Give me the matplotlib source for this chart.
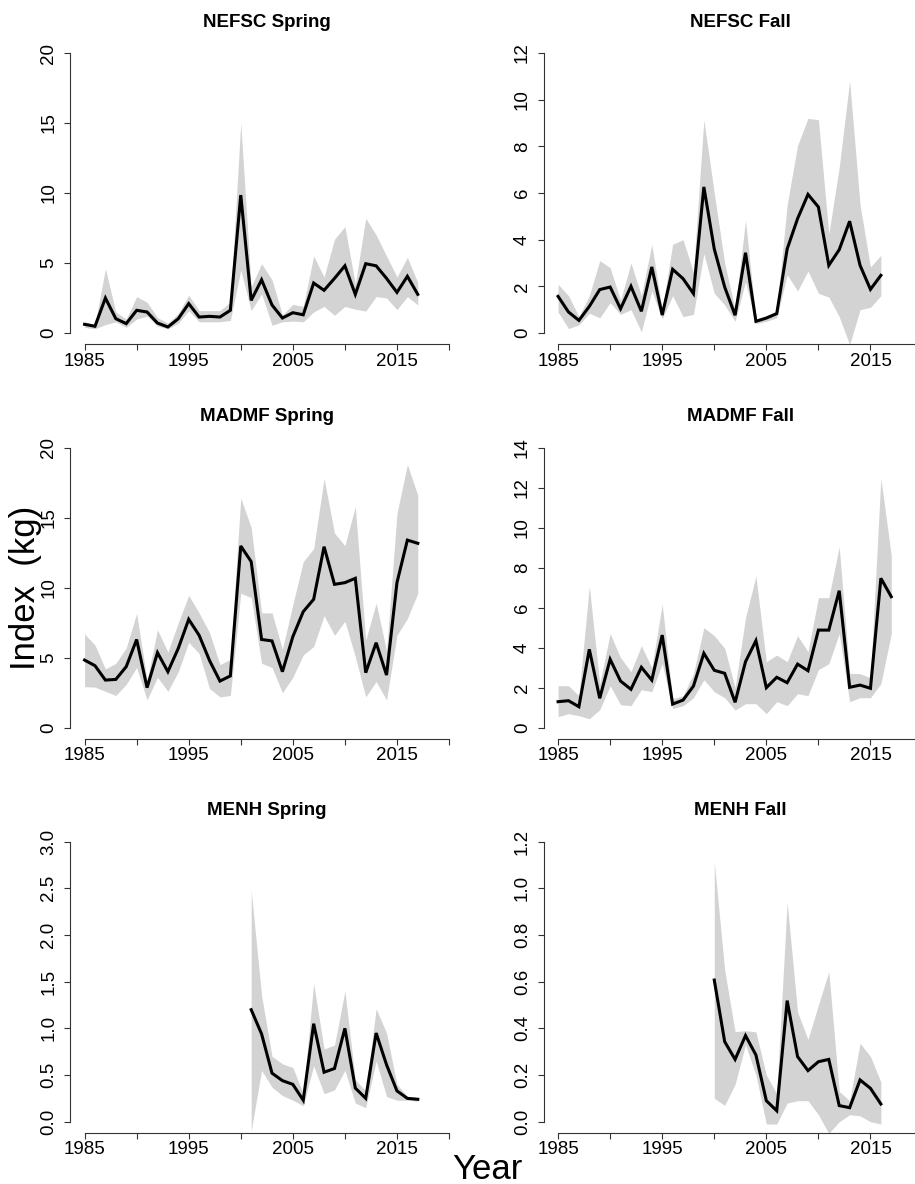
import matplotlib
matplotlib.use("Agg")
import matplotlib.pyplot as plt
import numpy as np

plt.rcParams['font.family'] = ['Liberation Sans', 'DejaVu Sans']

# survey indices (kg) with lower/upper confidence bounds
nefsc_spring_years = list(range(1985, 2018))
nefsc_spring_idx = [0.62, 0.48, 2.5, 1.02, 0.67, 1.62, 1.5, 0.71, 0.43, 1.02, 2.1,
                    1.14, 1.19, 1.14, 1.62, 9.85, 2.33, 3.8, 2.0, 1.07, 1.45, 1.3,
                    3.57, 3.05, 3.9, 4.8, 2.76, 4.95, 4.8, 3.9, 2.9, 4.05, 2.76]
nefsc_spring_lo = [0.4, 0.3, 0.6, 0.8, 0.4, 1.0, 1.2, 0.5, 0.3, 0.7, 1.6,
                   0.8, 0.8, 0.8, 0.9, 4.5, 1.6, 2.8, 0.55, 0.8, 0.85, 0.8,
                   1.5, 1.9, 1.26, 1.9, 1.7, 1.57, 2.6, 2.5, 1.67, 2.6, 2.0]
nefsc_spring_hi = [0.8, 0.6, 4.6, 1.5, 1.0, 2.6, 2.2, 1.1, 0.7, 1.4, 2.7,
                   1.6, 1.6, 1.6, 2.2, 15.0, 3.3, 4.95, 3.8, 1.3, 2.05, 1.9,
                   5.5, 4.0, 6.7, 7.6, 3.5, 8.2, 7.0, 5.5, 4.0, 5.4, 3.6]

nefsc_fall_years = list(range(1985, 2017))
nefsc_fall_idx = [1.57, 0.9, 0.54, 1.14, 1.86, 1.97, 1.04, 2.0, 0.93, 2.83, 0.77,
                  2.73, 2.33, 1.69, 6.26, 3.6, 1.97, 0.76, 3.44, 0.5, 0.64, 0.83,
                  3.6, 4.9, 5.94, 5.4, 2.9, 3.57, 4.79, 2.9, 1.87, 2.47]
nefsc_fall_lo = [0.9, 0.19, 0.35, 0.85, 0.65, 1.3, 0.8, 1.0, 0.05, 1.8, 0.6,
                 1.6, 0.7, 0.8, 3.4, 1.7, 1.2, 0.5, 2.2, 0.4, 0.5, 0.65,
                 2.5, 1.8, 2.66, 1.7, 1.54, 0.7, -0.5, 1.0, 1.1, 1.6]
nefsc_fall_hi = [2.09, 1.6, 0.7, 1.6, 3.1, 2.8, 1.4, 3.0, 1.6, 3.8, 1.0,
                 3.8, 4.0, 2.6, 9.14, 6.0, 3.0, 1.0, 4.83, 0.6, 0.75, 0.95,
                 5.5, 8.04, 9.2, 9.14, 4.25, 7.1, 10.8, 5.5, 2.83, 3.33]

madmf_spring_years = list(range(1985, 2018))
madmf_spring_idx = [4.83, 4.43, 3.4, 3.45, 4.36, 6.3, 2.86, 5.36, 4.0, 5.67, 7.74,
                    6.6, 4.8, 3.33, 3.7, 12.98, 11.86, 6.3, 6.2, 4.0, 6.5, 8.29,
                    9.17, 12.93, 10.24, 10.36, 10.67, 3.93, 6.07, 3.76, 10.36, 13.4, 13.17]
madmf_spring_lo = [2.93, 2.9, 2.6, 2.3, 3.1, 4.3, 1.98, 3.6, 2.6, 4.0, 6.1,
                   5.3, 2.8, 2.2, 2.3, 9.6, 9.3, 4.6, 4.3, 2.5, 3.6, 5.2,
                   5.8, 8.0, 6.6, 7.6, 5.07, 2.2, 3.3, 1.98, 6.6, 7.8, 9.6]
madmf_spring_hi = [6.7, 5.9, 4.2, 4.6, 5.7, 8.17, 3.4, 7.0, 5.4, 7.5, 9.45,
                   8.2, 6.8, 4.5, 4.9, 16.4, 14.3, 8.2, 8.2, 5.6, 8.8, 11.86,
                   12.8, 17.8, 13.9, 13.0, 15.8, 6.26, 8.9, 5.5, 15.3, 18.8, 16.6]

madmf_fall_years = list(range(1985, 2018))
madmf_fall_idx = [1.3, 1.35, 1.05, 3.92, 1.47, 3.42, 2.33, 1.92, 3.02, 2.38, 4.63,
                  1.18, 1.38, 2.08, 3.72, 2.87, 2.72, 1.27, 3.3, 4.35, 2.0, 2.52,
                  2.25, 3.18, 2.85, 4.88, 4.88, 6.85, 2.02, 2.13, 1.97, 7.47, 6.55]
madmf_fall_lo = [0.55, 0.7, 0.6, 0.45, 0.9, 2.1, 1.15, 1.1, 1.9, 1.8, 3.2,
                 0.95, 1.1, 1.5, 2.4, 1.8, 1.5, 0.88, 1.2, 1.2, 0.7, 1.3,
                 1.1, 1.7, 1.6, 2.9, 3.2, 4.7, 1.3, 1.5, 1.5, 2.2, 4.7]
madmf_fall_hi = [2.1, 2.1, 1.6, 7.08, 2.2, 4.7, 3.5, 2.8, 4.1, 3.0, 6.17,
                 1.45, 1.6, 2.7, 5.0, 4.6, 3.97, 2.0, 5.5, 7.58, 3.3, 3.63,
                 3.3, 4.6, 3.8, 6.5, 6.5, 9.05, 2.72, 2.7, 2.5, 12.47, 8.6]

menh_spring_years = list(range(2001, 2018))
menh_spring_idx = [1.2, 0.94, 0.52, 0.44, 0.4, 0.23, 1.05, 0.53, 0.57, 1.0, 0.36,
                   0.25, 0.95, 0.61, 0.33, 0.25, 0.24]
menh_spring_lo = [-0.1, 0.55, 0.37, 0.28, 0.23, 0.17, 0.6, 0.3, 0.34, 0.55, 0.2,
                  0.15, 0.65, 0.27, 0.23, 0.23, 0.22]
menh_spring_hi = [2.48, 1.35, 0.7, 0.62, 0.58, 0.3, 1.48, 0.78, 0.82, 1.4, 0.45,
                  0.33, 1.21, 0.95, 0.4, 0.27, 0.26]

menh_fall_years = list(range(2000, 2017))
menh_fall_idx = [0.607, 0.343, 0.267, 0.369, 0.286, 0.09, 0.047, 0.519, 0.279, 0.219,
                 0.257, 0.267, 0.069, 0.06, 0.179, 0.143, 0.076]
menh_fall_lo = [0.1, 0.07, 0.16, 0.33, 0.2, -0.01, -0.01, 0.08, 0.09, 0.09,
                0.03, -0.05, 0.0, 0.03, 0.025, 0.0, -0.01]
menh_fall_hi = [1.114, 0.65, 0.386, 0.39, 0.385, 0.2, 0.12, 0.94, 0.47, 0.353,
                0.5, 0.643, 0.13, 0.09, 0.336, 0.28, 0.17]

panels = [
    ("NEFSC Spring", nefsc_spring_years, nefsc_spring_idx, nefsc_spring_lo, nefsc_spring_hi, 20, 5, "%d"),
    ("NEFSC Fall", nefsc_fall_years, nefsc_fall_idx, nefsc_fall_lo, nefsc_fall_hi, 12, 2, "%d"),
    ("MADMF Spring", madmf_spring_years, madmf_spring_idx, madmf_spring_lo, madmf_spring_hi, 20, 5, "%d"),
    ("MADMF Fall", madmf_fall_years, madmf_fall_idx, madmf_fall_lo, madmf_fall_hi, 14, 2, "%d"),
    ("MENH Spring", menh_spring_years, menh_spring_idx, menh_spring_lo, menh_spring_hi, 3.0, 0.5, "%.1f"),
    ("MENH Fall", menh_fall_years, menh_fall_idx, menh_fall_lo, menh_fall_hi, 1.2, 0.2, "%.1f"),
]

W, H = 915, 1184
fig = plt.figure(figsize=(W / 100, H / 100), dpi=100)

# panel boxes in pixels (left edge per column, top edge per row)
col_left = [70, 543.5]
row_top = [41.8, 436.5, 830.5]
ax_w, ax_h = 393.6, 302.4

for i, (title, yrs, idx, lo, hi, ymax, ystep, fmt) in enumerate(panels):
    r, c = divmod(i, 2)
    ax = fig.add_axes([col_left[c] / W, 1 - (row_top[r] + ax_h) / H, ax_w / W, ax_h / H])
    ax.fill_between(yrs, lo, hi, color='#D3D3D3', linewidth=0)
    ax.plot(yrs, idx, color='black', linewidth=2.2, solid_joinstyle='miter')

    ax.set_xlim(1985 - 0.04 * 35, 2020 + 0.04 * 35)
    ax.set_ylim(-0.04 * ymax, 1.04 * ymax)

    for s in ['top', 'right']:
        ax.spines[s].set_visible(False)
    ax.spines['bottom'].set_bounds(1985, 2020)
    ax.spines['left'].set_bounds(0, ymax)
    for s in ['bottom', 'left']:
        ax.spines[s].set_linewidth(0.8)
        ax.spines[s].set_color('#333333')

    xt = np.arange(1985, 2021, 5)
    ax.set_xticks(xt)
    ax.set_xticklabels([str(x) if x in (1985, 1995, 2005, 2015) else '' for x in xt])
    yt = np.arange(0, ymax + ystep / 2, ystep)
    ax.set_yticks(yt)
    ax.set_yticklabels([fmt % v for v in yt])

    ax.tick_params(axis='both', direction='out', length=4.5, width=0.8,
                   color='#333333', labelsize=13.5)
    ax.tick_params(axis='x', pad=1.5)
    ax.tick_params(axis='y', pad=4.5, labelrotation=90)
    for lab in ax.get_yticklabels():
        lab.set_va('center')

    ax.set_title(title, fontsize=13.5, fontweight='bold', pad=11)

fig.text(25 / W, 1 - 588 / H, 'Index  (kg)', fontsize=25, rotation=90,
         ha='center', va='center')
fig.text(487.5 / W, 1 - 1179 / H, 'Year', fontsize=25, ha='center', va='baseline')

fig.savefig('out.png', dpi=100)
